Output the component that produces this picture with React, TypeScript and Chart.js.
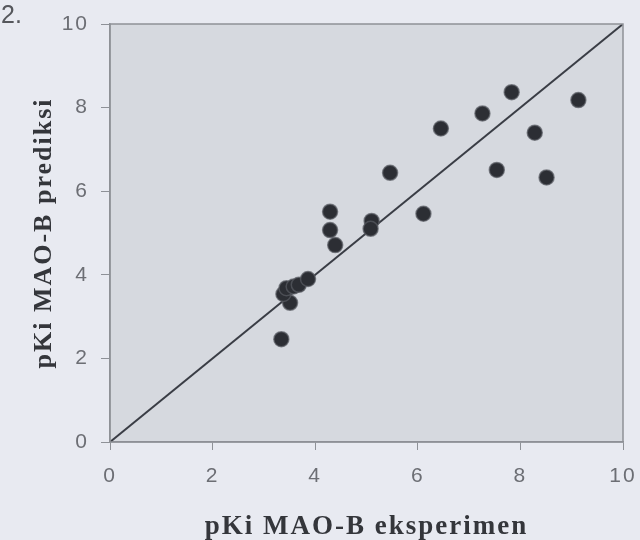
import React, { useEffect, useRef } from "react";
import { Chart, registerables } from "chart.js";

Chart.register(...registerables);

const expValues = [3.34, 3.51, 3.38, 3.44, 3.58, 3.68, 3.86, 4.39, 4.29, 4.29, 5.10, 5.08, 5.46, 6.11, 6.45, 7.26, 7.83, 7.54, 8.28, 8.51, 9.13];
const predValues = [2.46, 3.33, 3.54, 3.68, 3.72, 3.76, 3.90, 4.71, 5.07, 5.51, 5.29, 5.10, 6.44, 5.46, 7.50, 7.86, 8.37, 6.51, 7.40, 6.33, 8.18];
const identityLine = [0, 10];
const axisMin = 0;
const axisMax = 10;
const axisStep = 2;
const xTitle = "pKi MAO-B eksperimen";
const yTitle = "pKi MAO-B prediksi";
const panelLabel = "2.";

const bgPlugin = {
  id: "bgPlugin",
  beforeDraw(chart: any) {
    const { ctx, chartArea, width, height } = chart;
    ctx.save();
    ctx.fillStyle = "#e8eaf1";
    ctx.fillRect(0, 0, width, height);
    ctx.fillStyle = "#d6d9df";
    ctx.fillRect(chartArea.left, chartArea.top, chartArea.right - chartArea.left, chartArea.bottom - chartArea.top);
    ctx.fillStyle = "#55575c";
    ctx.font = "25px 'Liberation Sans', Arial, sans-serif";
    ctx.textBaseline = "alphabetic";
    ctx.textAlign = "left";
    ctx.fillText(panelLabel, 1, 23);
    ctx.restore();
    (ctx as any).letterSpacing = "2px";
  },
  afterDraw(chart: any) {
    const { ctx, chartArea } = chart;
    (ctx as any).letterSpacing = "0px";
    ctx.save();
    ctx.strokeStyle = "#8e9197";
    ctx.lineWidth = 1.5;
    ctx.strokeRect(chartArea.left, chartArea.top, chartArea.right - chartArea.left, chartArea.bottom - chartArea.top);
    ctx.restore();
  },
};

export default function App() {
  const canvasRef = useRef<HTMLCanvasElement | null>(null);

  useEffect(() => {
    if (!canvasRef.current) return;
    const points = expValues.map((x, i) => ({ x, y: predValues[i] }));
    const line = identityLine.map((v) => ({ x: v, y: v }));
    const chart = new Chart(canvasRef.current, {
      type: "scatter",
      data: {
        datasets: [
          {
            label: "identity",
            data: line,
            showLine: true,
            borderColor: "#3a3d45",
            borderWidth: 2,
            pointRadius: 0,
            fill: false,
            order: 2,
          } as any,
          {
            label: "data",
            data: points,
            backgroundColor: "#2c2e34",
            borderColor: "rgba(90,92,100,0.7)",
            borderWidth: 1.5,
            pointRadius: 7.5,
            order: 1,
          },
        ],
      },
      options: {
        animation: false,
        responsive: false,
        maintainAspectRatio: false,
        layout: { padding: { left: 0, top: 24, right: 17, bottom: 0 } },
        plugins: {
          legend: { display: false },
          tooltip: { enabled: false },
        },
        scales: {
          x: {
            type: "linear",
            min: axisMin,
            max: axisMax,
            ticks: {
              stepSize: axisStep,
              color: "#6c6e74",
              font: { family: "'Liberation Sans', Arial, sans-serif", size: 21 },
              padding: 14,
            },
            grid: { drawOnChartArea: false, drawTicks: true, tickLength: 8, color: "#8e9197" },
            border: { display: true, color: "#8e9197", width: 1.5 },
            title: {
              display: true,
              text: xTitle,
              color: "#34363b",
              font: { family: "'Liberation Serif', 'Times New Roman', serif", size: 27, weight: "bold" },
              padding: { top: 0, bottom: -3 },
            },
            afterFit(scale: any) {
              scale.height = 98;
              scale.paddingLeft = 0;
              scale.paddingRight = 0;
            },
          },
          y: {
            type: "linear",
            min: axisMin,
            max: axisMax,
            ticks: {
              stepSize: axisStep,
              color: "#6c6e74",
              font: { family: "'Liberation Sans', Arial, sans-serif", size: 21 },
              padding: 12,
            },
            grid: { drawOnChartArea: false, drawTicks: true, tickLength: 9, color: "#8e9197" },
            border: { display: true, color: "#8e9197", width: 1.5 },
            title: {
              display: true,
              text: yTitle,
              color: "#34363b",
              font: { family: "'Liberation Serif', 'Times New Roman', serif", size: 26, weight: "bold" },
              padding: { top: 29, bottom: 0 },
            },
            afterFit(scale: any) {
              scale.width = 110;
              scale.paddingTop = 0;
              scale.paddingBottom = 0;
            },
          },
        },
      },
      plugins: [bgPlugin],
    });
    return () => chart.destroy();
  }, []);

  return (
    <div style={{ position: "fixed", left: 0, top: 0, width: 640, height: 540 }}>
      <canvas ref={canvasRef} width={640} height={540} style={{ width: 640, height: 540, display: "block" }} />
    </div>
  );
}
